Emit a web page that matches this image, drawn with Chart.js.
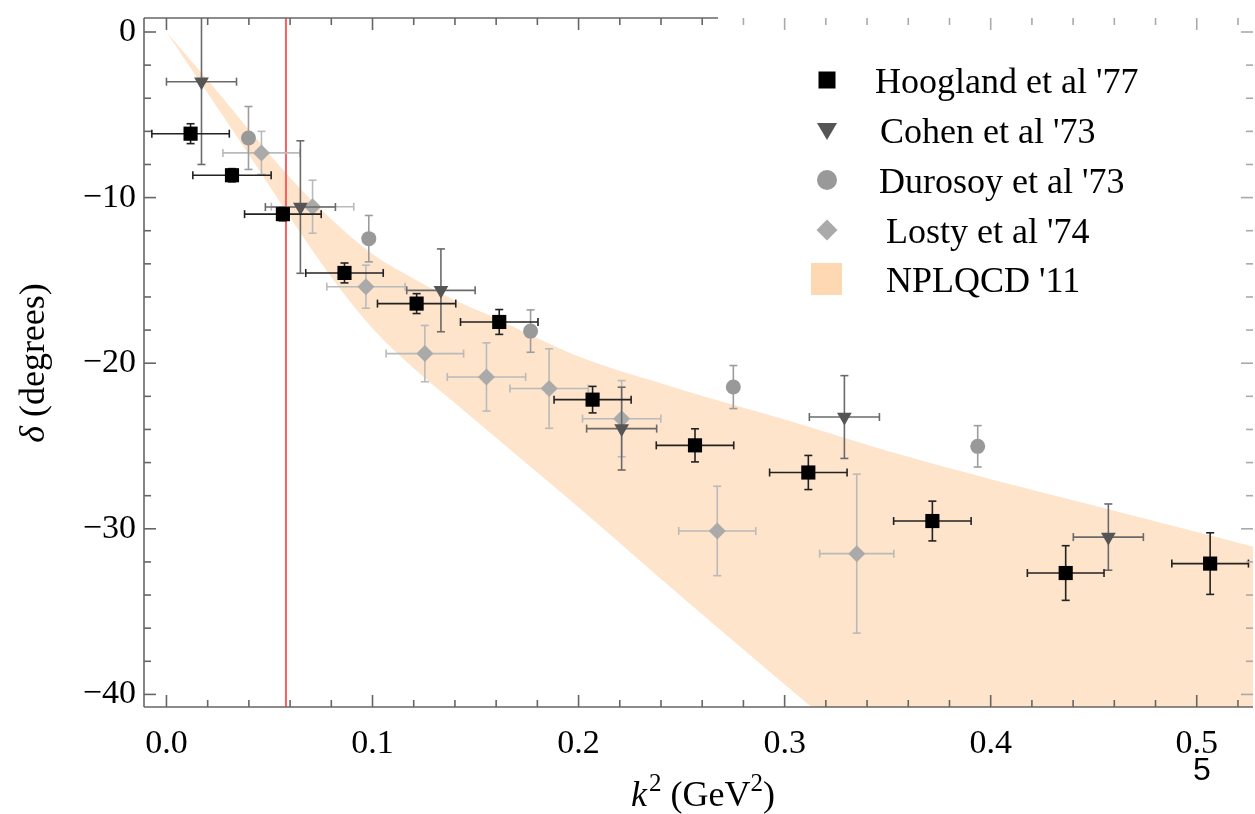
<!DOCTYPE html>
<html><head><meta charset="utf-8">
<script src="https://cdn.jsdelivr.net/npm/chart.js@4.4.1/dist/chart.umd.min.js"></script>
<style>html,body{margin:0;padding:0;background:#fff;overflow:hidden}#wrap{width:1255px;height:814px;position:relative}</style>
</head><body><div id="wrap"><canvas id="c"></canvas></div>
<script>
// ---------- data ----------
const xTicks = [0, 0.1, 0.2, 0.3, 0.4, 0.5];
const yTicks = [0, -10, -20, -30, -40];
const seriesLabels = ["Hoogland et al '77", "Cohen et al '73", "Durosoy et al '73", "Losty et al '74", "NPLQCD '11"];

const hooglandX    = [0.0117, 0.0318, 0.0565, 0.0864, 0.1214, 0.1615, 0.2068, 0.2565, 0.3115, 0.3717, 0.4364, 0.5065];
const hooglandY    = [-6.14, -8.65, -11.0, -14.55, -16.4, -17.51, -22.2, -24.96, -26.6, -29.53, -32.67, -32.1];
const hooglandXErr = [0.0188, 0.019, 0.0186, 0.0188, 0.019, 0.0188, 0.0187, 0.0188, 0.0188, 0.0188, 0.0186, 0.0186];
const hooglandYErr = [0.6, 0.4, 0.4, 0.6, 0.6, 0.75, 0.8, 1.0, 1.03, 1.2, 1.65, 1.86];

const cohenX    = [0.017, 0.065, 0.1332, 0.2209, 0.329, 0.4571];
const cohenY    = [-3.0, -10.57, -15.6, -23.95, -23.25, -30.5];
const cohenXErr = [0.017, 0.017, 0.0166, 0.017, 0.017, 0.017];
const cohenYErr = [5.0, 4.0, 2.5, 2.5, 2.5, 2.0];

const durosoyX    = [0.0398, 0.0982, 0.1767, 0.2751, 0.3937];
const durosoyY    = [-6.4, -12.48, -18.06, -21.44, -25.02];
const durosoyYErr = [1.9, 1.4, 1.28, 1.3, 1.25];

const lostyX    = [0.0461, 0.0709, 0.0968, 0.1254, 0.1553, 0.1857, 0.2209, 0.2673, 0.335];
const lostyY    = [-7.3, -10.55, -15.38, -19.42, -20.83, -21.53, -23.35, -30.13, -31.5];
const lostyXErr = [0.0187, 0.02, 0.019, 0.0188, 0.019, 0.019, 0.019, 0.0187, 0.018];
const lostyYErr = [1.3, 1.6, 1.3, 1.7, 2.06, 2.4, 2.3, 2.7, 4.8];

const bandX     = [0, 0.02, 0.04, 0.06, 0.08, 0.10, 0.12, 0.14, 0.16, 0.18, 0.20, 0.25, 0.30, 0.35, 0.40, 0.45, 0.50, 0.54];
const bandUpper = [0, -2.9, -5.9, -8.8, -11.3, -13.4, -14.9, -16.2, -17.3, -18.5, -19.6, -21.6, -23.4, -25.3, -27.0, -28.6, -30.2, -31.5];
const bandLower = [0, -3.7, -7.4, -11.2, -14.8, -17.9, -20.3, -22.4, -24.5, -26.6, -28.7, -34.1, -39.4, -44.6, -49.8, -55.0, -60.2, -64.3];

const redLineX = 0.058;

// ---------- helpers ----------
const pts = (xs, ys) => xs.map((x, i) => ({x: x, y: ys[i]}));
const SERIF = '"Liberation Serif", "Times New Roman", serif';
const TARGET_RIGHT = 1253;

const errorBarPlugin = {
  id: 'errbars',
  beforeDatasetDraw(chart, args) {
    const ds = chart.data.datasets[args.index];
    if (!ds.errX && !ds.errY) return;
    const ctx = chart.ctx, xs = chart.scales.x, ys = chart.scales.y, a = chart.chartArea;
    const cap = 4;
    ctx.save();
    ctx.beginPath(); ctx.rect(a.left, a.top, a.right - a.left, a.bottom - a.top); ctx.clip();
    ctx.strokeStyle = ds.errColor; ctx.lineWidth = 1.6;
    const seg = (x1, y1, x2, y2) => { ctx.beginPath(); ctx.moveTo(x1, y1); ctx.lineTo(x2, y2); ctx.stroke(); };
    ds.data.forEach((p, i) => {
      const px = xs.getPixelForValue(p.x), py = ys.getPixelForValue(p.y);
      if (ds.errX) {
        const x1 = xs.getPixelForValue(p.x - ds.errX[i]), x2 = xs.getPixelForValue(p.x + ds.errX[i]);
        seg(x1, py, x2, py); seg(x1, py - cap, x1, py + cap); seg(x2, py - cap, x2, py + cap);
      }
      if (ds.errY) {
        const y1 = ys.getPixelForValue(p.y + ds.errY[i]), y2 = ys.getPixelForValue(p.y - ds.errY[i]);
        seg(px, y1, px, y2); seg(px - cap, y1, px + cap, y1); seg(px - cap, y2, px + cap, y2);
      }
    });
    ctx.restore();
  }
};

const framePlugin = {
  id: 'frame',
  afterDatasetsDraw(chart) {
    const ctx = chart.ctx, xs = chart.scales.x, ys = chart.scales.y, a = chart.chartArea;
    ctx.save();
    ctx.lineWidth = 1.6;
    const seg = (x1, y1, x2, y2, c) => { ctx.strokeStyle = c; ctx.beginPath(); ctx.moveTo(x1, y1); ctx.lineTo(x2, y2); ctx.stroke(); };
    const dark = '#666', light = '#aaa';
    const legendCut = 718;
    seg(a.left, a.top, a.left, a.bottom, dark);
    seg(a.left, a.bottom, a.right, a.bottom, dark);
    seg(a.left, a.top, legendCut, a.top, dark);
    for (let k = 0; k <= 26; k++) {
      const v = k * 0.02; const px = xs.getPixelForValue(v);
      if (px > a.right) break;
      const major = k % 5 === 0; const L = major ? 12 : 7;
      seg(px, a.bottom, px, a.bottom - L, dark);
      seg(px, a.top, px, a.top + L, px > legendCut ? light : dark);
    }
    for (let k = 0; k <= 20; k++) {
      const v = -2 * k; const py = ys.getPixelForValue(v);
      const major = k % 5 === 0; const L = major ? 12 : 7;
      seg(a.left, py, a.left + L, py, dark);
      seg(a.right, py, a.right - L, py, light);
    }
    ctx.restore();
  },
  afterDraw(chart) {
    const ctx = chart.ctx;
    ctx.save();
    ctx.fillStyle = '#000';
    // y-axis title
    ctx.save();
    ctx.translate(44, 363);
    ctx.rotate(-Math.PI / 2);
    ctx.textBaseline = 'alphabetic';
    ctx.font = 'italic 36px ' + SERIF;
    const wD = ctx.measureText('δ').width;
    ctx.font = '36px ' + SERIF;
    const wR = ctx.measureText(' (degrees)').width;
    let sx = -(wD + wR) / 2;
    ctx.font = 'italic 36px ' + SERIF; ctx.textAlign = 'left';
    ctx.fillText('δ', sx, 0);
    ctx.font = '36px ' + SERIF;
    ctx.fillText(' (degrees)', sx + wD, 0);
    ctx.restore();
    // x-axis title: k^2 (GeV^2)
    const parts = [
      {t: 'k', f: 'italic 36px ' + SERIF, dy: 0},
      {t: '2', f: '25px ' + SERIF, dy: -15},
      {t: ' (GeV', f: '36px ' + SERIF, dy: 0},
      {t: '2', f: '25px ' + SERIF, dy: -15},
      {t: ')', f: '36px ' + SERIF, dy: 0}
    ];
    let tw = 0;
    parts.forEach(p => { ctx.font = p.f; p.w = ctx.measureText(p.t).width; tw += p.w; });
    let cx = 702 - tw / 2;
    ctx.textAlign = 'left'; ctx.textBaseline = 'alphabetic';
    parts.forEach(p => { ctx.font = p.f; ctx.fillText(p.t, cx, 806 + p.dy); cx += p.w + (p.t === 'k' ? 2 : 0); });
    // legend
    const rows = [80, 130, 180, 230, 279];
    const tx = [875, 880, 879, 886, 886];
    const mx = 827;
    ctx.fillStyle = '#000';
    ctx.fillRect(mx - 8.5, rows[0] - 8.5, 17, 17);
    ctx.fillStyle = '#555';
    ctx.beginPath(); ctx.moveTo(mx - 10, rows[1] - 7); ctx.lineTo(mx + 10, rows[1] - 7); ctx.lineTo(mx, rows[1] + 10); ctx.closePath(); ctx.fill();
    ctx.fillStyle = '#999';
    ctx.beginPath(); ctx.arc(mx, rows[2], 10, 0, Math.PI * 2); ctx.fill();
    ctx.fillStyle = '#aaa';
    ctx.beginPath(); ctx.moveTo(mx, rows[3] - 10.5); ctx.lineTo(mx + 10.5, rows[3]); ctx.lineTo(mx, rows[3] + 10.5); ctx.lineTo(mx - 10.5, rows[3]); ctx.closePath(); ctx.fill();
    ctx.fillStyle = '#fdd8b3';
    ctx.fillRect(mx - 16, rows[4] - 16, 31, 32);
    ctx.fillStyle = '#000';
    ctx.font = '36px ' + SERIF;
    seriesLabels.forEach((s, i) => ctx.fillText(s, tx[i], rows[i] + 13));
    // page number
    ctx.font = '32px "Liberation Sans", Arial, sans-serif';
    ctx.textAlign = 'center';
    ctx.fillText('5', 1202, 780);
    ctx.restore();
  }
};

const wrap = document.getElementById('wrap');
const chart = new Chart(document.getElementById('c'), {
  type: 'scatter',
  data: {
    datasets: [
      {label: seriesLabels[0], data: pts(hooglandX, hooglandY), errX: hooglandXErr, errY: hooglandYErr, errColor: '#222',
       pointStyle: 'rect', pointRadius: 10, pointBackgroundColor: '#000', pointBorderWidth: 0, order: 1},
      {label: seriesLabels[1], data: pts(cohenX, cohenY), errX: cohenXErr, errY: cohenYErr, errColor: '#6a6a6a',
       pointStyle: 'triangle', rotation: 180, pointRotation: 180, pointRadius: 8.5, pointBackgroundColor: '#555', pointBorderWidth: 0, order: 2},
      {label: seriesLabels[2], data: pts(durosoyX, durosoyY), errY: durosoyYErr, errColor: '#9c9c9c',
       pointStyle: 'circle', pointRadius: 7.5, pointBackgroundColor: '#999', pointBorderWidth: 0, order: 3},
      {label: seriesLabels[3], data: pts(lostyX, lostyY), errX: lostyXErr, errY: lostyYErr, errColor: '#bababa',
       pointStyle: 'rectRot', pointRadius: 8.5, pointBackgroundColor: '#aaa', pointBorderWidth: 0, order: 4},
      {label: 'ref', data: [{x: redLineX, y: 3}, {x: redLineX, y: -45}], showLine: true, borderColor: '#ff5f5f', borderWidth: 2,
       pointRadius: 0, fill: false, order: 5},
      {label: 'bandLower', data: pts(bandX, bandLower), showLine: true, borderWidth: 0, borderColor: 'rgba(0,0,0,0)', pointRadius: 0,
       fill: false, cubicInterpolationMode: 'monotone', order: 7},
      {label: seriesLabels[4], data: pts(bandX, bandUpper), showLine: true, borderWidth: 0, borderColor: 'rgba(0,0,0,0)', pointRadius: 0,
       fill: '-1', backgroundColor: '#fde4cb', cubicInterpolationMode: 'monotone', order: 6}
    ]
  },
  options: {
    responsive: true, maintainAspectRatio: false, animation: false,
    layout: {padding: {top: 18, right: 2, left: 0, bottom: 0}},
    plugins: {legend: {display: false}, tooltip: {enabled: false}},
    events: [],
    scales: {
      x: {
        type: 'linear', min: -0.0109, max: 0.5273,
        afterBuildTicks: s => { s.ticks = xTicks.map(v => ({value: v})); },
        afterFit: s => { s.height = 107; },
        grid: {display: false, drawTicks: false}, border: {display: false},
        ticks: {color: '#000', padding: 0, maxRotation: 0, autoSkip: false,
                font: {family: SERIF, size: 34, lineHeight: 2.18},
                callback: v => Number(v).toFixed(1)}
      },
      y: {
        type: 'linear', min: -40.76, max: 0.845,
        afterBuildTicks: s => { s.ticks = yTicks.map(v => ({value: v})); },
        afterFit: s => { s.width = 144; },
        grid: {display: false, drawTicks: false}, border: {display: false},
        ticks: {color: '#000', padding: 8, autoSkip: false,
                font: {family: SERIF, size: 34, lineHeight: 0.4},
                callback: v => v === 0 ? '0' : '\u2212' + Math.abs(v)}
      }
    }
  },
  plugins: [errorBarPlugin, framePlugin]
});

// keep the plot frame's right edge where the reference has it
const deficit = TARGET_RIGHT - chart.chartArea.right;
if (Math.abs(deficit) > 0.5) {
  wrap.style.width = (1255 + deficit) + 'px';
  chart.resize();
}
</script>
</body></html>
